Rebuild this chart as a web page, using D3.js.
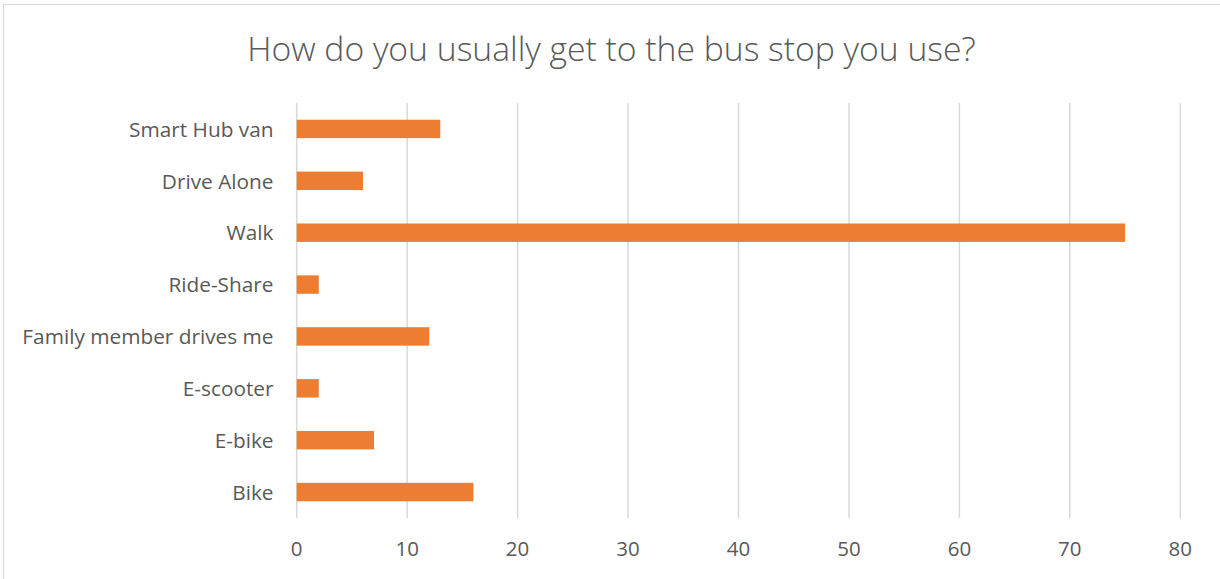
<!DOCTYPE html>
<html><head><meta charset="utf-8">
<script src="https://cdn.jsdelivr.net/npm/d3@7"></script>
<style>
html,body{margin:0;padding:0;background:#fff;}
svg{display:block;}
</style></head>
<body><svg id="chart" width="1220" height="579"></svg>
<script>
const titleText = "How do you usually get to the bus stop you use?";
const categories = ["Smart Hub van","Drive Alone","Walk","Ride-Share","Family member drives me","E-scooter","E-bike","Bike"];
const values = [13, 6, 75, 2, 12, 2, 7, 16];
const xTicks = [0,10,20,30,40,50,60,70,80];

const svg = d3.select("#chart");
const W = 1220, H = 579;
const font = "'Open Sans', 'Noto Sans', sans-serif";
const textColor = "#595959";

// chart border
svg.append("rect").attr("x",3.5).attr("y",4.5).attr("width",W).attr("height",H)
  .attr("fill","#fff").attr("stroke","#d9d9d9").attr("stroke-width",1.2);

// title
svg.append("text").attr("x",611.5).attr("y",60.5).attr("text-anchor","middle")
  .attr("font-family",font).attr("font-size",33.7).attr("font-weight",300)
  .attr("fill",textColor).text(titleText);

const x = d3.scaleLinear().domain([0,80]).range([296.7,1180.3]);
const y = d3.scaleBand().domain(categories).range([103,518]).paddingInner(0.645).paddingOuter(0.3225);

// gridlines
svg.append("g").selectAll("line").data(xTicks).join("line")
  .attr("x1",d=>x(d)).attr("x2",d=>x(d)).attr("y1",103).attr("y2",518)
  .attr("stroke","#d9d9d9").attr("stroke-width",1.5);

// bars
svg.append("g").selectAll("rect").data(values).join("rect")
  .attr("x",x(0)).attr("y",(d,i)=>y(categories[i]))
  .attr("width",d=>x(d)-x(0)).attr("height",y.bandwidth())
  .attr("fill","#ed7d31");

// category labels
svg.append("g").selectAll("text").data(categories).join("text")
  .attr("x",273.5).attr("y",d=>y(d)+y.bandwidth()/2+7.8)
  .attr("text-anchor","end").attr("font-family",font).attr("font-size",20.8)
  .attr("fill",textColor).text(d=>d);

// x tick labels
svg.append("g").selectAll("text").data(xTicks).join("text")
  .attr("x",d=>x(d)).attr("y",556)
  .attr("text-anchor","middle").attr("font-family",font).attr("font-size",20.5)
  .attr("fill",textColor).text(d=>d);
</script></body></html>
